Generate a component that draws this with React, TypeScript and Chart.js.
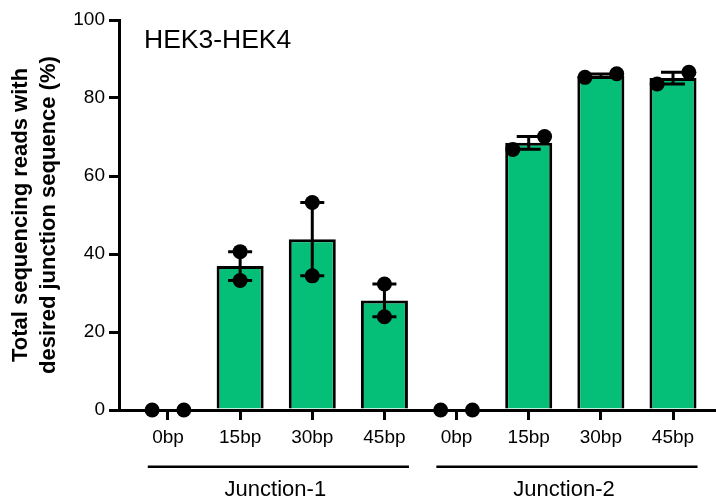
import React, { useEffect, useRef } from "react";
import { Chart, registerables } from "chart.js";

Chart.register(...registerables);

// ---- data ----
const categories = ["0bp", "15bp", "30bp", "45bp", "0bp", "15bp", "30bp", "45bp"];
const groupLabels = ["Junction-1", "Junction-2"];
const groupFirst = [0, 4];
const groupLast = [3, 7];
const meanValues = [0, 36.9, 43.8, 28.1, 0, 68.5, 85.7, 85.1];
const semValues = [0, 3.7, 9.4, 4.2, 0, 1.65, 0.45, 1.5];
const replicate1 = [0, 40.6, 53.2, 32.3, 0, 66.8, 85.3, 83.6];
const replicate2 = [0, 33.2, 34.4, 23.9, 0, 70.1, 86.2, 86.6];
const yTicks = [0, 20, 40, 60, 80, 100];
const chartTitle = "HEK3-HEK4";
const yTitle = ["Total sequencing reads with", "desired junction sequence (%)"];

// ---- style constants ----
const FONT = "'Liberation Sans', Arial, Helvetica, sans-serif";
const GREEN = "#05BE78";
const JITTER = 0.22;
const DOT_OVERLAP = 4;
const X_MIN = -0.679;
const X_MAX = 7.596;

export default function App() {
  const ref = useRef<HTMLCanvasElement | null>(null);

  useEffect(() => {
    if (!ref.current) return;

    const barData = categories.map((_, i) => ({ x: i, y: meanValues[i] }));
    const pointData: { x: number; y: number }[] = [];
    categories.forEach((_, i) => {
      const a = replicate1[i];
      const b = replicate2[i];
      const overlap = Math.abs(a - b) < DOT_OVERLAP;
      pointData.push({ x: overlap ? i - JITTER : i, y: a });
      pointData.push({ x: overlap ? i + JITTER : i, y: b });
    });

    const errorBars = {
      id: "errorBars",
      afterDatasetsDraw(chart: any) {
        const { ctx, scales } = chart;
        const xs = scales.x;
        const ys = scales.y;
        ctx.save();
        ctx.strokeStyle = "#000";
        ctx.lineWidth = 3;
        ctx.lineCap = "butt";
        meanValues.forEach((m, i) => {
          const s = semValues[i];
          if (!s) return;
          const x = xs.getPixelForValue(i);
          const yT = ys.getPixelForValue(m + s);
          const yB = ys.getPixelForValue(m - s);
          ctx.beginPath();
          ctx.moveTo(x, yT);
          ctx.lineTo(x, yB);
          ctx.moveTo(x - 12, yT);
          ctx.lineTo(x + 12, yT);
          ctx.moveTo(x - 12, yB);
          ctx.lineTo(x + 12, yB);
          ctx.stroke();
        });
        ctx.restore();
      },
    };

    const annotations = {
      id: "annotations",
      afterDraw(chart: any) {
        const { ctx, scales, chartArea } = chart;
        const xs = scales.x;
        ctx.save();
        ctx.fillStyle = "#000";
        ctx.textBaseline = "alphabetic";
        ctx.textAlign = "left";
        ctx.font = `26.5px ${FONT}`;
        ctx.fillText(chartTitle, 144, 48.3);

        ctx.strokeStyle = "#000";
        ctx.lineWidth = 2.5;
        ctx.font = `22px ${FONT}`;
        ctx.textAlign = "center";
        groupLabels.forEach((label, g) => {
          const x1 = xs.getPixelForValue(groupFirst[g] - 0.28);
          const x2 = xs.getPixelForValue(groupLast[g] + 0.34);
          const ly = chartArea.bottom + 56.7;
          ctx.beginPath();
          ctx.moveTo(x1, ly);
          ctx.lineTo(x2, ly);
          ctx.stroke();
          ctx.fillText(label, (x1 + x2) / 2 - 3, chartArea.bottom + 86);
        });
        ctx.restore();
      },
    };

    const chart = new Chart(ref.current, {
      type: "bar",
      data: {
        datasets: [
          {
            type: "scatter",
            data: pointData,
            pointRadius: 7.5,
            pointHoverRadius: 7.5,
            pointBackgroundColor: "#000",
            pointBorderWidth: 0,
            showLine: false,
            clip: false as any,
            order: 1,
          } as any,
          {
            type: "bar",
            data: barData,
            backgroundColor: GREEN,
            borderColor: "#000",
            borderWidth: 3,
            categoryPercentage: 0.652,
            barPercentage: 1,
            order: 2,
          } as any,
        ],
      },
      options: {
        responsive: false,
        animation: false,
        devicePixelRatio: 1,
        layout: { autoPadding: false, padding: { top: 20, left: 0, right: 0, bottom: 0 } },
        plugins: {
          legend: { display: false },
          tooltip: { enabled: false },
          title: { display: false },
        },
        scales: {
          x: {
            type: "linear",
            min: X_MIN,
            max: X_MAX,
            offset: false,
            afterBuildTicks: (s: any) => {
              s.ticks = categories.map((_, i) => ({ value: i }));
            },
            afterFit: (s: any) => {
              s.height = 90;
            },
            ticks: {
              callback: (v: any) => categories[v as number] ?? "",
              font: { family: FONT, size: 19 },
              color: "#000",
              padding: 6,
              maxRotation: 0,
              autoSkip: false,
            },
            grid: {
              display: true,
              drawOnChartArea: false,
              drawTicks: true,
              tickLength: 10,
              lineWidth: 3,
              color: "#000",
              offset: false,
            },
            border: { display: true, color: "#000", width: 3 },
          } as any,
          y: {
            type: "linear",
            min: 0,
            max: 100,
            afterBuildTicks: (s: any) => {
              s.ticks = yTicks.map((v) => ({ value: v }));
            },
            afterFit: (s: any) => {
              s.width = 119;
            },
            ticks: {
              font: { family: FONT, size: 19 },
              color: "#000",
              padding: 4,
            },
            grid: {
              display: true,
              drawOnChartArea: false,
              drawTicks: true,
              tickLength: 10,
              lineWidth: 3,
              color: "#000",
            },
            border: { display: true, color: "#000", width: 3 },
            title: {
              display: true,
              text: yTitle,
              color: "#000",
              font: { family: FONT, size: 22, weight: "bold", lineHeight: 1.27 },
              padding: { top: 7, bottom: 0 },
            },
          } as any,
        },
      },
      plugins: [errorBars, annotations],
    });

    return () => chart.destroy();
  }, []);

  return (
    <div style={{ position: "absolute", left: 0, top: 0, width: 716, height: 500, background: "#fff" }}>
      <canvas ref={ref} width={716} height={500} style={{ width: 716, height: 500, display: "block" }} />
    </div>
  );
}
